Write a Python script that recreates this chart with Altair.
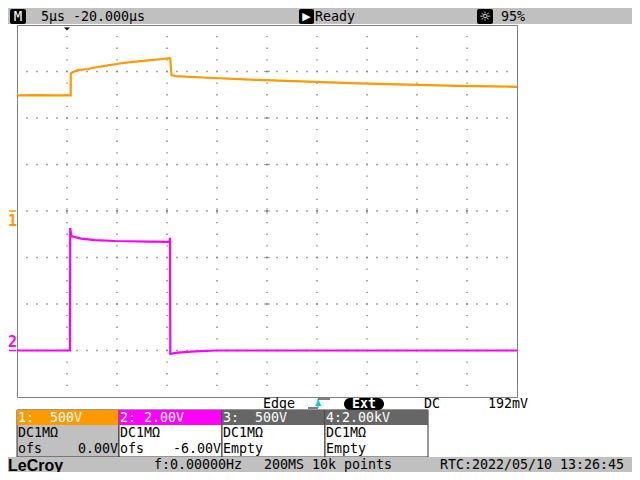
import altair as alt
import pandas as pd
import numpy as np

# ---------------- data ----------------
# time in microseconds relative to the trigger (5 us/div, 10 div on screen)
T_MIN, T_MAX = -5.0, 45.0
Y_DIVS = 4  # +-4 divisions vertically

# Channel 1 (orange): 500 V/div, offset 0 V
CH1_SCALE, CH1_OFS = 500.0, 0.0
CH1_T = [-5.0, -3.0, -1.0, 0.2, 0.37, 0.38, 0.6, 1.1, 2.1, 3.1, 4.1, 5.1, 6.1,
         8.1, 9.1, 10.27, 10.32, 10.45, 10.9, 14.1, 19.1, 24.1, 29.1, 34.1, 39.1, 45.0]
CH1_V = [1244, 1246, 1243, 1244, 1244, 1478, 1496, 1514, 1527, 1548, 1566, 1583, 1598,
         1619, 1629, 1643, 1640, 1461, 1451, 1433, 1409, 1391, 1373, 1359, 1346, 1335]

# Channel 2 (magenta): 2 V/div, offset -6 V
CH2_SCALE, CH2_OFS = 2.0, -6.0
CH2_T = [-5.0, -2.0, 0.3, 0.32, 0.43, 1.4, 2.8, 4.8, 8.1, 10.27, 10.30, 10.33,
         10.45, 10.8, 12.4, 14.8, 30.0, 45.0]
CH2_V = [0.0, 0.0, 0.0, 5.27, 4.92, 4.81, 4.75, 4.71, 4.68, 4.67, 4.85, -0.15,
         -0.14, -0.10, -0.05, 0.0, 0.0, 0.0]

TOP_TEXT = ["M", "5µs -20.000µs", "Ready", "95%"]
TRIG_TEXT = ["Edge", "Ext", "DC", "192mV"]
CH_NAMES = ["1:", "2:", "3:", "4:"]
CH_VDIV = ["500V", "2.00V", "500V", "2.00kV"]
CH_COUPLING = ["DC1MΩ", "DC1MΩ", "DC1MΩ", "DC1MΩ"]
CH_ROW3_LEFT = ["ofs", "ofs", "Empty", "Empty"]
CH_ROW3_RIGHT = ["0.00V", "-6.00V", "", ""]
BOTTOM_TEXT = ["LeCroy", "f:0.00000Hz", "200MS 10k points", "RTC:2022/05/10 13:26:45"]

# ---------------- layout / style ----------------
ORANGE = "#ff9900"
MAGENTA = "#ff00ff"
BAR_GRAY = "#c0c0c0"
HDR_GRAY = "#666666"
GRID_GRAY = "#808080"
MONO = "DejaVu Sans Mono"
FS = 13.3
CW = 8.0  # character cell width of the monospace font

W_TOTAL, H_TOTAL = 624, 464
PL, PT, PW, PH = 9, 17, 500, 372
PR = W_TOTAL - PL - PW
PB = H_TOTAL - PT - PH

TRIG_Y = 396
BOX_TOP, HDR_BOT, ROW2_Y, ROW3_Y, BOX_BOT = 402, 417, 425, 441, 449
BOTBAR_TOP, BOTBAR_Y = 449, 457
BOX_X = [9, 111, 214, 317, 420]
HDR_FILL = [ORANGE, MAGENTA, HDR_GRAY, HDR_GRAY]
BODY_FILL = [BAR_GRAY, "white", "white", "white"]
VDIV_COL = [4, 3, 4, 2]  # character column where the V/div value starts

ONE = pd.DataFrame({"k": [0]})


def vx(cx):
    return cx - PL


def vy(cy):
    return cy - PT


def R(x0, y0, x1, y1, fill, stroke=None, sw=1.0, cr=0):
    kw = dict(fill=fill, cornerRadius=cr)
    if stroke:
        kw.update(stroke=stroke, strokeWidth=sw)
    else:
        kw.update(strokeWidth=0)
    return alt.Chart(ONE).mark_rect(**kw).encode(
        x=alt.value(vx(x0)), x2=alt.value(vx(x1)),
        y=alt.value(vy(y0)), y2=alt.value(vy(y1)))


def L(x0, y0, x1, y1, color="black", sw=1.0):
    return alt.Chart(ONE).mark_rule(color=color, strokeWidth=sw).encode(
        x=alt.value(vx(x0)), x2=alt.value(vx(x1)),
        y=alt.value(vy(y0)), y2=alt.value(vy(y1)))


def T(s, x, y, color="black", size=FS, align="left", font=MONO, weight="normal", style="normal"):
    return alt.Chart(ONE).mark_text(
        text=s, align=align, baseline="middle", font=font, fontSize=size,
        fontWeight=weight, fontStyle=style, color=color).encode(
        x=alt.value(vx(x)), y=alt.value(vy(y)))


xs = alt.Scale(domain=[T_MIN, T_MAX], nice=False, zero=False)
ys = alt.Scale(domain=[-Y_DIVS, Y_DIVS], nice=False, zero=False)
X = lambda: alt.X("t:Q", scale=xs, axis=None)
Y = lambda: alt.Y("d:Q", scale=ys, axis=None)

# grid dots (graticule)
dots = []
for r in range(-3, 4):
    for t in np.arange(T_MIN + 1, T_MAX, 1.0):
        dots.append((t, r))
for c in np.arange(T_MIN + 5, T_MAX, 5.0):
    for d in np.arange(-Y_DIVS + 0.25, Y_DIVS, 0.25):
        dots.append((c, d))
dots_df = pd.DataFrame(dots, columns=["t", "d"])
grid = alt.Chart(dots_df).mark_square(size=2, color=GRID_GRAY, opacity=1).encode(x=X(), y=Y())

center_t = (T_MIN + T_MAX) / 2
hd = pd.DataFrame({"t": [center_t] * 7, "d": list(range(-3, 4))})
vd = pd.DataFrame({"t": list(np.arange(T_MIN + 5, T_MAX, 5.0)), "d": 0})
hticks = alt.Chart(hd).mark_tick(orient="horizontal", size=6, thickness=1.2, color=GRID_GRAY).encode(x=X(), y=Y())
vticks = alt.Chart(vd).mark_tick(orient="vertical", size=6, thickness=1.2, color=GRID_GRAY).encode(x=X(), y=Y())

# traces
ch1 = pd.DataFrame({"t": CH1_T, "d": [(v + CH1_OFS) / CH1_SCALE for v in CH1_V], "i": range(len(CH1_T))})
ch2 = pd.DataFrame({"t": CH2_T, "d": [(v + CH2_OFS) / CH2_SCALE for v in CH2_V], "i": range(len(CH2_T))})
line1 = alt.Chart(ch1).mark_line(color=ORANGE, strokeWidth=2.2).encode(x=X(), y=Y(), order="i:Q")
line2 = alt.Chart(ch2).mark_line(color=MAGENTA, strokeWidth=2.2).encode(x=X(), y=Y(), order="i:Q")

# trigger position marker
trig = alt.Chart(ONE).mark_point(shape="M-1,-0.5L1,-0.5L0,0.5Z", size=36, filled=True,
                                 color="black", opacity=1).encode(
    x=alt.X(datum=0, scale=xs), y=alt.value(4))

# channel ground markers
lvl1 = CH1_OFS / CH1_SCALE
lvl2 = CH2_OFS / CH2_SCALE
m1 = alt.Chart(ONE).mark_rule(color=ORANGE, strokeWidth=1.5).encode(
    x=alt.value(vx(1)), x2=alt.value(vx(8)), y=alt.Y(datum=lvl1, scale=ys))
m2 = alt.Chart(ONE).mark_rule(color=MAGENTA, strokeWidth=1.5).encode(
    x=alt.value(vx(1)), x2=alt.value(vx(8)), y=alt.Y(datum=lvl2, scale=ys))
m1t = alt.Chart(ONE).mark_text(text="1", color=ORANGE, font=MONO, fontSize=15, fontWeight="bold",
                               align="center", baseline="middle", dy=10).encode(
    x=alt.value(vx(4.5)), y=alt.Y(datum=lvl1, scale=ys))
m2t = alt.Chart(ONE).mark_text(text="2", color=MAGENTA, font=MONO, fontSize=15, fontWeight="bold",
                               align="center", baseline="middle", dy=-9).encode(
    x=alt.value(vx(4.5)), y=alt.Y(datum=lvl2, scale=ys))

layers = [grid, hticks, vticks, line1, line2, trig, m1, m2, m1t, m2t]

# ---- top status bar ----
layers += [
    R(0, 0, W_TOTAL, 16, BAR_GRAY),
    R(2, 1, 18, 16, "black", cr=2),
    T(TOP_TEXT[0], 10, 8.5, color="white", size=14, align="center"),
    T(TOP_TEXT[1], 33, 8.5),
    R(291, 1, 306, 16, "black", cr=2),
    T("▶", 298.5, 8.5, color="white", size=11, align="center", font="DejaVu Sans"),
    T(TOP_TEXT[2], 307, 8.5),
    R(469, 1, 485, 16, "black", cr=2),
    T("☼", 477, 8.5, color="white", size=13, align="center", font="DejaVu Sans"),
    T(TOP_TEXT[3], 493, 8.5),
]

# ---- trigger row ----
layers += [
    T(TRIG_TEXT[0], 255, TRIG_Y),
    L(300, TRIG_Y + 4, 310, TRIG_Y + 4),
    L(310, TRIG_Y - 5, 310, TRIG_Y + 4, color="#00c8e8", sw=1.2),
    L(310, TRIG_Y - 5, 322, TRIG_Y - 5),
    T("▲", 310, TRIG_Y - 1, color="#00c8e8", size=8, align="center", font="DejaVu Sans"),
    R(336, TRIG_Y - 6, 376, TRIG_Y + 6, "black", cr=6),
    T(TRIG_TEXT[1], 356, TRIG_Y, color="white", align="center", weight="bold"),
    T(TRIG_TEXT[2], 416, TRIG_Y),
    T(TRIG_TEXT[3], 480, TRIG_Y),
]

# ---- channel boxes ----
for k in range(4):
    x0, x1 = BOX_X[k], BOX_X[k + 1]
    hy = (BOX_TOP + HDR_BOT) / 2 + 0.5
    layers += [
        R(x0, BOX_TOP, x1, BOX_BOT, BODY_FILL[k], stroke="#303030", sw=1),
        R(x0, BOX_TOP, x1, HDR_BOT, HDR_FILL[k]),
        T(CH_NAMES[k], x0 + 1, hy, color="white"),
        T(CH_VDIV[k], x0 + 1 + CW * VDIV_COL[k], hy, color="white"),
        T(CH_COUPLING[k], x0 + 1, ROW2_Y),
        T(CH_ROW3_LEFT[k], x0 + 1, ROW3_Y),
    ]
    if CH_ROW3_RIGHT[k]:
        layers.append(T(CH_ROW3_RIGHT[k], x1 - 1, ROW3_Y, align="right"))

# ---- bottom bar ----
layers += [
    R(0, BOTBAR_TOP, W_TOTAL, H_TOTAL, BAR_GRAY),
    T(BOTTOM_TEXT[0], 0, BOTBAR_Y + 0.5, font="Liberation Sans", size=16, weight="bold"),
    T(BOTTOM_TEXT[1], 146, BOTBAR_Y),
    T(BOTTOM_TEXT[2], 256, BOTBAR_Y),
    T(BOTTOM_TEXT[3], 432, BOTBAR_Y),
]

chart = alt.layer(*layers).properties(
    width=PW, height=PH,
    padding={"left": PL, "top": PT, "right": PR, "bottom": PB},
    autosize=alt.AutoSizeParams(type="none"),
    background="white",
).configure_view(stroke=GRID_GRAY, strokeWidth=1)

chart.save("out.html", embed_options={"renderer": "svg", "actions": False})
